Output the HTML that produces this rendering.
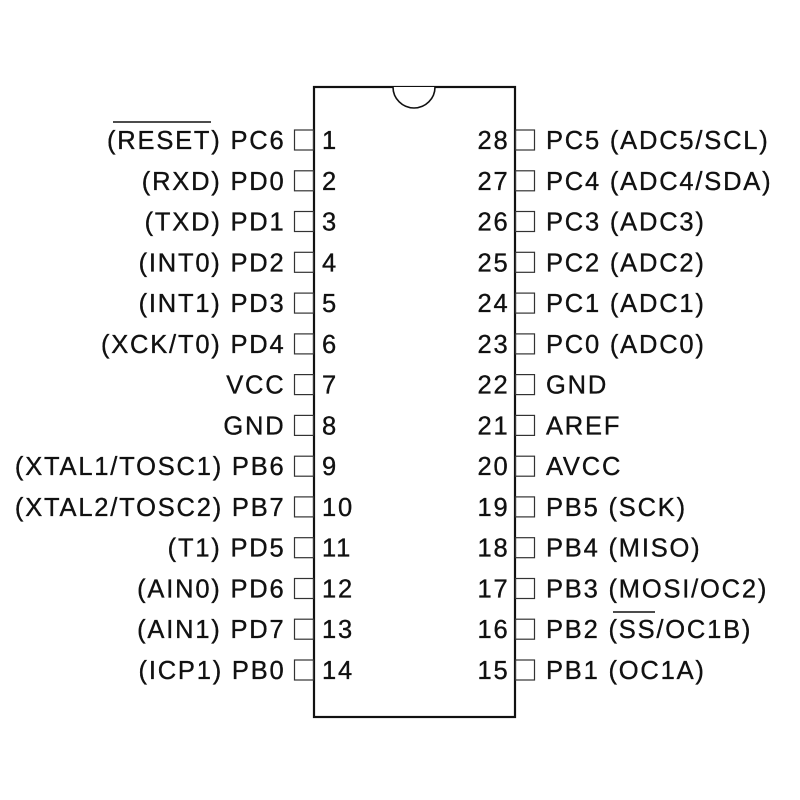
<!DOCTYPE html>
<html><head><meta charset="utf-8"><style>
html,body{margin:0;padding:0;background:#fff;}
svg{display:block;}
text{font-family:"Liberation Sans",Arial,sans-serif;font-size:25.5px;letter-spacing:1.8px;fill:#111;stroke:#111;stroke-width:0.35;}
.l{text-anchor:end;}
</style></head><body>
<svg width="800" height="800" viewBox="0 0 800 800" xmlns="http://www.w3.org/2000/svg">
<rect x="314" y="87" width="201" height="630" fill="#fff" stroke="#111" stroke-width="2.2"/>
<path d="M393 87 A21 21 0 0 0 435 87" fill="#fff" stroke="#111" stroke-width="1.6"/>
<g fill="none" stroke="#333" stroke-width="1.2">
<rect x="294.5" y="130" width="19" height="20"/><rect x="515.5" y="130" width="19" height="20"/>
<rect x="294.5" y="170.8" width="19" height="20"/><rect x="515.5" y="170.8" width="19" height="20"/>
<rect x="294.5" y="211.5" width="19" height="20"/><rect x="515.5" y="211.5" width="19" height="20"/>
<rect x="294.5" y="252.3" width="19" height="20"/><rect x="515.5" y="252.3" width="19" height="20"/>
<rect x="294.5" y="293.1" width="19" height="20"/><rect x="515.5" y="293.1" width="19" height="20"/>
<rect x="294.5" y="333.9" width="19" height="20"/><rect x="515.5" y="333.9" width="19" height="20"/>
<rect x="294.5" y="374.6" width="19" height="20"/><rect x="515.5" y="374.6" width="19" height="20"/>
<rect x="294.5" y="415.4" width="19" height="20"/><rect x="515.5" y="415.4" width="19" height="20"/>
<rect x="294.5" y="456.2" width="19" height="20"/><rect x="515.5" y="456.2" width="19" height="20"/>
<rect x="294.5" y="496.9" width="19" height="20"/><rect x="515.5" y="496.9" width="19" height="20"/>
<rect x="294.5" y="537.7" width="19" height="20"/><rect x="515.5" y="537.7" width="19" height="20"/>
<rect x="294.5" y="578.5" width="19" height="20"/><rect x="515.5" y="578.5" width="19" height="20"/>
<rect x="294.5" y="619.2" width="19" height="20"/><rect x="515.5" y="619.2" width="19" height="20"/>
<rect x="294.5" y="660" width="19" height="20"/><rect x="515.5" y="660" width="19" height="20"/>
</g>
<line x1="113" y1="122" x2="211" y2="122" stroke="#111" stroke-width="1.6"/>
<line x1="613" y1="612" x2="655" y2="612" stroke="#111" stroke-width="1.6"/>
<text class="l" x="285.5" y="149">(RESET) PC6</text>
<text class="l" x="285.5" y="189.8">(RXD) PD0</text>
<text class="l" x="285.5" y="230.5">(TXD) PD1</text>
<text class="l" x="285.5" y="271.3">(INT0) PD2</text>
<text class="l" x="285.5" y="312.1">(INT1) PD3</text>
<text class="l" x="285.5" y="352.9">(XCK/T0) PD4</text>
<text class="l" x="285.5" y="393.6">VCC</text>
<text class="l" x="285.5" y="434.4">GND</text>
<text class="l" x="285.5" y="475.2">(XTAL1/TOSC1) PB6</text>
<text class="l" x="285.5" y="515.9">(XTAL2/TOSC2) PB7</text>
<text class="l" x="285.5" y="556.7">(T1) PD5</text>
<text class="l" x="285.5" y="597.5">(AIN0) PD6</text>
<text class="l" x="285.5" y="638.2">(AIN1) PD7</text>
<text class="l" x="285.5" y="679">(ICP1) PB0</text>
<text x="322" y="149">1</text>
<text x="322" y="189.8">2</text>
<text x="322" y="230.5">3</text>
<text x="322" y="271.3">4</text>
<text x="322" y="312.1">5</text>
<text x="322" y="352.9">6</text>
<text x="322" y="393.6">7</text>
<text x="322" y="434.4">8</text>
<text x="322" y="475.2">9</text>
<text x="322" y="515.9">10</text>
<text x="322" y="556.7">11</text>
<text x="322" y="597.5">12</text>
<text x="322" y="638.2">13</text>
<text x="322" y="679">14</text>
<text class="l" x="509.5" y="149">28</text>
<text class="l" x="509.5" y="189.8">27</text>
<text class="l" x="509.5" y="230.5">26</text>
<text class="l" x="509.5" y="271.3">25</text>
<text class="l" x="509.5" y="312.1">24</text>
<text class="l" x="509.5" y="352.9">23</text>
<text class="l" x="509.5" y="393.6">22</text>
<text class="l" x="509.5" y="434.4">21</text>
<text class="l" x="509.5" y="475.2">20</text>
<text class="l" x="509.5" y="515.9">19</text>
<text class="l" x="509.5" y="556.7">18</text>
<text class="l" x="509.5" y="597.5">17</text>
<text class="l" x="509.5" y="638.2">16</text>
<text class="l" x="509.5" y="679">15</text>
<text x="546" y="149">PC5 (ADC5/SCL)</text>
<text x="546" y="189.8">PC4 (ADC4/SDA)</text>
<text x="546" y="230.5">PC3 (ADC3)</text>
<text x="546" y="271.3">PC2 (ADC2)</text>
<text x="546" y="312.1">PC1 (ADC1)</text>
<text x="546" y="352.9">PC0 (ADC0)</text>
<text x="546" y="393.6">GND</text>
<text x="546" y="434.4">AREF</text>
<text x="546" y="475.2">AVCC</text>
<text x="546" y="515.9">PB5 (SCK)</text>
<text x="546" y="556.7">PB4 (MISO)</text>
<text x="546" y="597.5">PB3 (MOSI/OC2)</text>
<text x="546" y="638.2">PB2 (SS/OC1B)</text>
<text x="546" y="679">PB1 (OC1A)</text>
</svg>
</body></html>
